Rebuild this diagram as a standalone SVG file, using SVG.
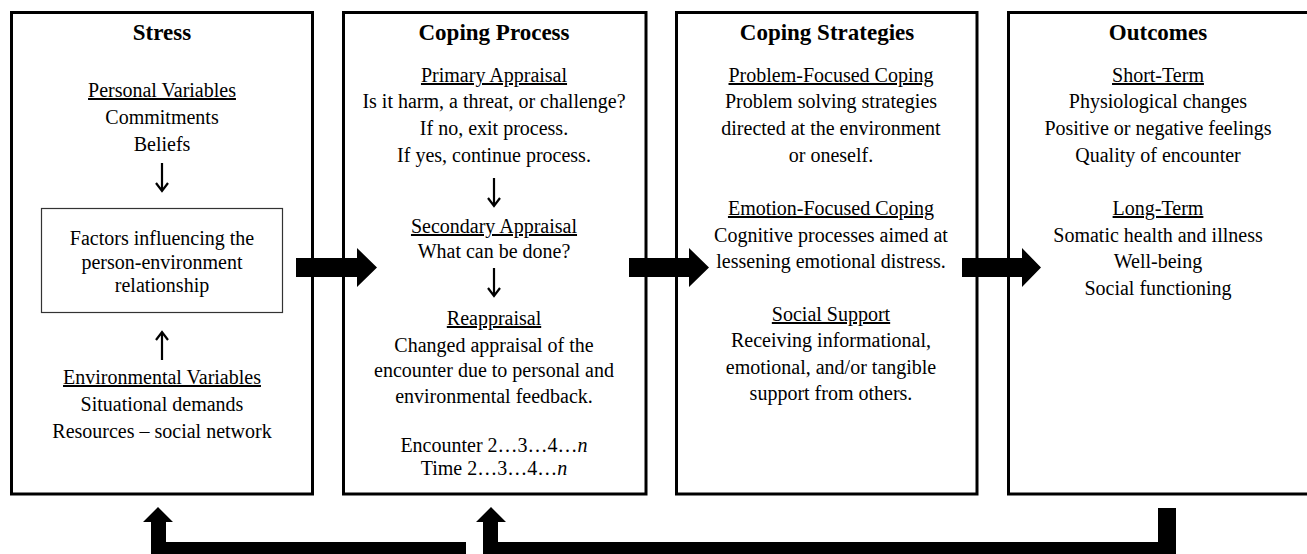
<svg xmlns="http://www.w3.org/2000/svg" width="1307" height="554" viewBox="0 0 1307 554">
  <style>
    text { font-family: "Liberation Serif", "Times New Roman", serif; font-size: 20px; fill: #000; text-anchor: middle; }
    .title { font-size: 23px; font-weight: bold; }
    .head { text-decoration: underline; }
    .box { fill: #fff; stroke: #000; stroke-width: 3; }
    .inner { fill: none; stroke: #333; stroke-width: 1.2; }
    .small { fill: none; stroke: #000; stroke-width: 2.2; }
    .block { fill: #000; stroke: none; }
  </style>
  <rect width="1307" height="554" fill="#fff"/>

  <!-- Stress -->
  <g id="stress">
    <rect class="box" x="11.5" y="12.5" width="301" height="481.5"/>
    <text class="title" x="162" y="40">Stress</text>
    <text class="head" x="162" y="97">Personal Variables</text>
    <text x="162" y="124">Commitments</text>
    <text x="162" y="151">Beliefs</text>
    <path class="small" d="M162 163 V191 M156 183 L162 191 L168 183"/>
    <rect class="inner" x="41.5" y="208.5" width="241" height="104"/>
    <text x="162" y="245">Factors influencing the</text>
    <text x="162" y="269">person-environment</text>
    <text x="162" y="292">relationship</text>
    <path class="small" d="M162 360 V332 M156 340 L162 332 L168 340"/>
    <text class="head" x="162" y="384">Environmental Variables</text>
    <text x="162" y="411">Situational demands</text>
    <text x="162" y="438">Resources – social network</text>
  </g>

  <!-- Coping Process -->
  <g id="coping-process">
    <rect class="box" x="343.5" y="12.5" width="302.5" height="481.5"/>
    <text class="title" x="494" y="40">Coping Process</text>
    <text class="head" x="494" y="82">Primary Appraisal</text>
    <text x="494" y="108">Is it harm, a threat, or challenge?</text>
    <text x="494" y="135">If no, exit process.</text>
    <text x="494" y="162">If yes, continue process.</text>
    <path class="small" d="M494 178 V206 M488 198 L494 206 L500 198"/>
    <text class="head" x="494" y="233">Secondary Appraisal</text>
    <text x="494" y="258">What can be done?</text>
    <path class="small" d="M494 268 V296 M488 288 L494 296 L500 288"/>
    <text class="head" x="494" y="325">Reappraisal</text>
    <text x="494" y="352">Changed appraisal of the</text>
    <text x="494" y="377">encounter due to personal and</text>
    <text x="494" y="403">environmental feedback.</text>
    <text x="494" y="452">Encounter 2…3…4…<tspan font-style="italic">n</tspan></text>
    <text x="494" y="475">Time 2…3…4…<tspan font-style="italic">n</tspan></text>
  </g>

  <!-- Coping Strategies -->
  <g id="coping-strategies">
    <rect class="box" x="676.5" y="12.5" width="300.5" height="481.5"/>
    <text class="title" x="827" y="40">Coping Strategies</text>
    <text class="head" x="831" y="82">Problem-Focused Coping</text>
    <text x="831" y="108">Problem solving strategies</text>
    <text x="831" y="135">directed at the environment</text>
    <text x="831" y="162">or oneself.</text>
    <text class="head" x="831" y="215">Emotion-Focused Coping</text>
    <text x="831" y="242">Cognitive processes aimed at</text>
    <text x="831" y="268">lessening emotional distress.</text>
    <text class="head" x="831" y="321">Social Support</text>
    <text x="831" y="347">Receiving informational,</text>
    <text x="831" y="374">emotional, and/or tangible</text>
    <text x="831" y="400">support from others.</text>
  </g>

  <!-- Outcomes -->
  <g id="outcomes">
    <rect class="box" x="1008.5" y="12.5" width="302" height="481.5"/>
    <text class="title" x="1158" y="40">Outcomes</text>
    <text class="head" x="1158" y="82">Short-Term</text>
    <text x="1158" y="108">Physiological changes</text>
    <text x="1158" y="135">Positive or negative feelings</text>
    <text x="1158" y="162">Quality of encounter</text>
    <text class="head" x="1158" y="215">Long-Term</text>
    <text x="1158" y="242">Somatic health and illness</text>
    <text x="1158" y="268">Well-being</text>
    <text x="1158" y="295">Social functioning</text>
  </g>

  <!-- Connectors: block arrows between stages and feedback loops -->
  <g id="connectors">
    <polygon class="block" points="296,258 357,258 357,248 377,267.5 357,287 357,277 296,277"/>
    <polygon class="block" points="629,258 689,258 689,248 709,267.5 689,287 689,277 629,277"/>
    <polygon class="block" points="962,258 1022,258 1022,248 1041,267.5 1022,287 1022,277 962,277"/>
    <!-- feedback: outcomes back to stress -->
    <polygon class="block" points="466,542 166,542 166,522 173,522 158,507 143,522 151,522 151,554 466,554"/>
    <!-- feedback: outcomes back to coping process -->
    <polygon class="block" points="1176,508 1158,508 1158,542 498,542 498,522 506,522 491,507 476,522 483,522 483,554 1176,554"/>
  </g>
</svg>
